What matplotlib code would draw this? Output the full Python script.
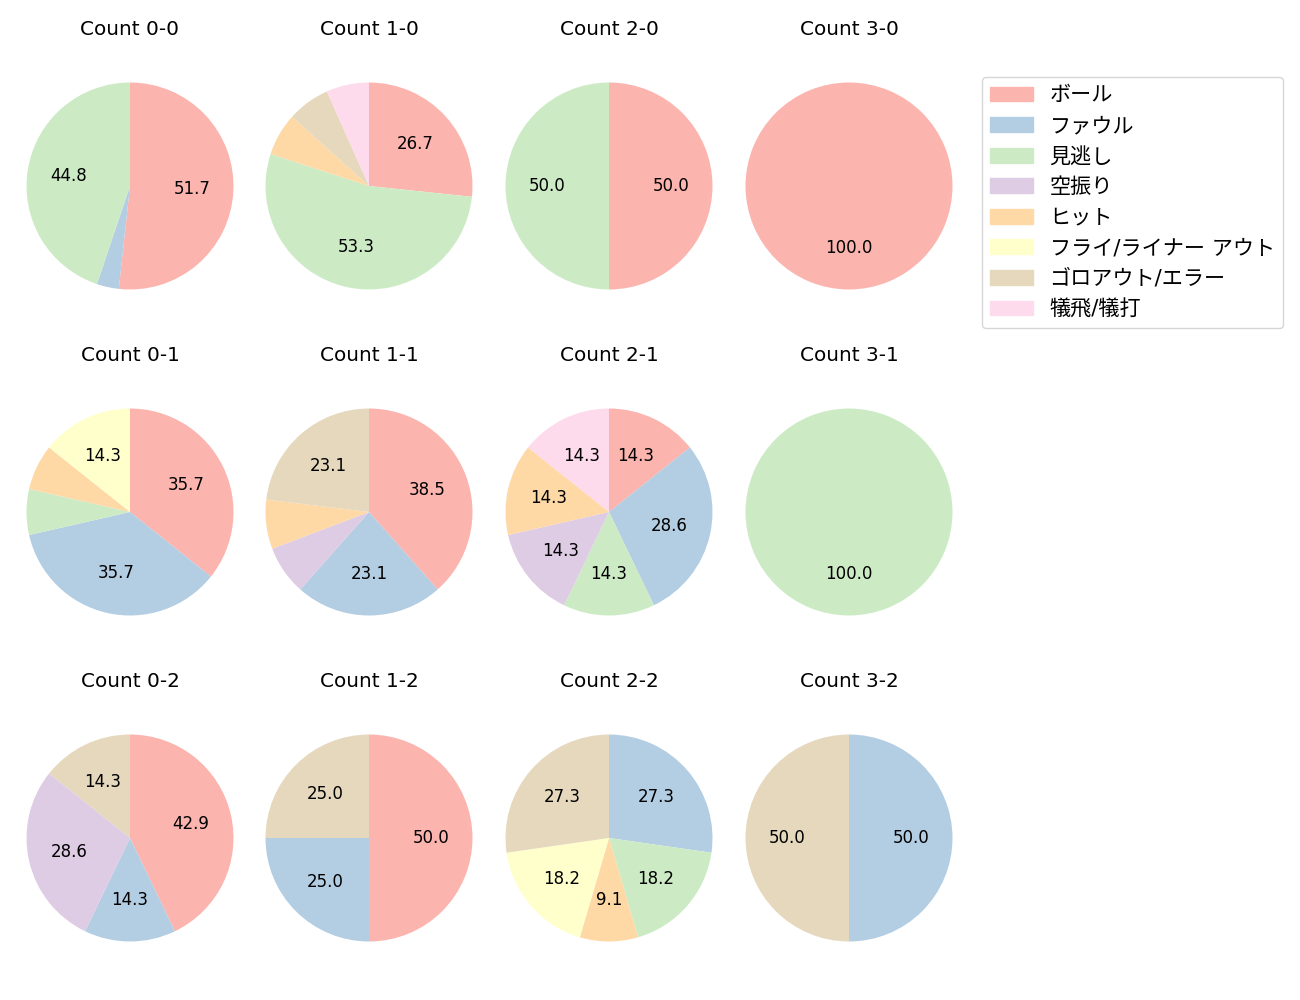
import matplotlib
matplotlib.use("Agg")
import matplotlib.pyplot as plt

plt.rcParams['font.family'] = ['DejaVu Sans', 'Noto Sans CJK JP']

## Data ##
categories = ["ボール", "ファウル", "見逃し", "空振り", "ヒット",
              "フライ/ライナー アウト", "ゴロアウト/エラー", "犠飛/犠打"]

counts = ["0-0", "1-0", "2-0", "3-0",
          "0-1", "1-1", "2-1", "3-1",
          "0-2", "1-2", "2-2", "3-2"]

# pitch results per count, in the order of categories
values = {
    "0-0": [15, 1, 13, 0, 0, 0, 0, 0],
    "1-0": [4, 0, 8, 0, 1, 0, 1, 1],
    "2-0": [1, 0, 1, 0, 0, 0, 0, 0],
    "3-0": [1, 0, 0, 0, 0, 0, 0, 0],
    "0-1": [5, 5, 1, 0, 1, 2, 0, 0],
    "1-1": [5, 3, 0, 1, 1, 0, 3, 0],
    "2-1": [1, 2, 1, 1, 1, 0, 0, 1],
    "3-1": [0, 0, 1, 0, 0, 0, 0, 0],
    "0-2": [3, 1, 0, 2, 0, 0, 1, 0],
    "1-2": [2, 1, 0, 0, 0, 0, 1, 0],
    "2-2": [0, 3, 2, 0, 1, 2, 3, 0],
    "3-2": [0, 1, 0, 0, 0, 0, 1, 0],
}

colors = plt.get_cmap('Pastel1').colors[:8]

## Plot ##
fig = plt.figure(figsize=(13, 10), dpi=100)
W, H = 1300, 1000
col_x = [130, 369, 609, 849]
row_y = [186, 512, 838]
box = 240

def autopct(p):
    return f"{p:.1f}" if p > 8 else ""

for k, cnt in enumerate(counts):
    r, c = divmod(k, 4)
    ax = fig.add_axes([(col_x[c] - box / 2) / W, 1 - (row_y[r] + box / 2) / H,
                       box / W, box / H])
    vals = values[cnt]
    idx = [i for i, v in enumerate(vals) if v > 0]
    ax.pie([vals[i] for i in idx], colors=[colors[i] for i in idx],
           startangle=90, counterclock=False, autopct=autopct,
           radius=1.078, textprops={'fontsize': 12})
    ax.set_xlim(-1.25, 1.25)
    ax.set_ylim(-1.25, 1.25)
    ax.set_aspect('equal')
    ax.set_title(f"Count {cnt}", fontsize=14.4, pad=22)

patches = [plt.Rectangle((0, 0), 1, 1, color=colors[i]) for i in range(8)]
fig.legend(patches, categories, loc='upper left',
           bbox_to_anchor=(982 / W, 1 - 77 / H), fontsize=15.2,
           handlelength=2.0, handleheight=0.7, borderaxespad=0)

plt.savefig("out.png", dpi=100)
plt.close()
